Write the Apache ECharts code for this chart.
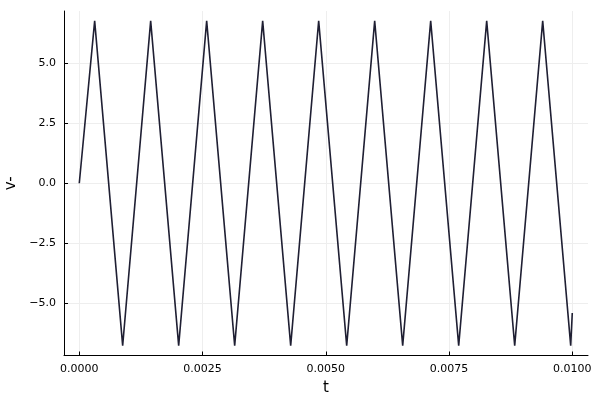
<!DOCTYPE html>
<html>
<head>
<meta charset="utf-8">
<script src="https://cdn.jsdelivr.net/npm/echarts@6/dist/echarts.min.js"></script>
<style>html,body{margin:0;padding:0;background:#fff}#c{width:600px;height:400px}</style>
</head>
<body>
<div id="c"></div>
<script>
const tValues = [0, 0.000312, 0.000880, 0.001448, 0.002016, 0.002584, 0.003152, 0.003720, 0.004288, 0.004856, 0.005424, 0.005992, 0.006560, 0.007128, 0.007696, 0.008264, 0.008832, 0.009400, 0.009968, 0.010000];
const vValues = [0, 6.75, -6.75, 6.75, -6.75, 6.75, -6.75, 6.75, -6.75, 6.75, -6.75, 6.75, -6.75, 6.75, -6.75, 6.75, -6.75, 6.75, -6.75, -5.39];
const xTicks = [0, 0.0025, 0.005, 0.0075, 0.01];
const yTicks = [-5, -2.5, 0, 2.5, 5];

const font = 'DejaVu Sans';
const chart = echarts.init(document.getElementById('c'), null, {renderer: 'canvas'});
chart.setOption({
  animation: false,
  backgroundColor: '#ffffff',
  grid: {left: 64, top: 11, width: 524, height: 344.5, containLabel: false, outerBoundsMode: 'none'},
  xAxis: {
    type: 'value', min: -0.00031, max: 0.010319,
    name: 't', nameLocation: 'middle', nameGap: 25,
    nameTextStyle: {fontFamily: font, fontSize: 15, color: '#000'},
    axisLine: {show: true, onZero: false, lineStyle: {color: '#000', width: 1}},
    axisTick: {show: true, inside: true, length: 4, customValues: xTicks, lineStyle: {color: '#000'}},
    axisLabel: {customValues: xTicks, fontFamily: font, fontSize: 11, color: '#000', margin: 8,
      formatter: v => v.toFixed(4)},
    splitLine: {show: true, lineStyle: {color: '#eeeeee', width: 1}}
  },
  yAxis: {
    type: 'value', min: -7.16, max: 7.16,
    name: 'v-', nameLocation: 'middle', nameGap: 44, nameRotate: 90,
    nameTextStyle: {fontFamily: font, fontSize: 15, color: '#000'},
    axisLine: {show: true, onZero: false, lineStyle: {color: '#000', width: 1}},
    axisTick: {show: true, inside: true, length: 4, customValues: yTicks, lineStyle: {color: '#000'}},
    axisLabel: {customValues: yTicks, fontFamily: font, fontSize: 11, color: '#000', margin: 8,
      formatter: v => (v < 0 ? '\u2212' : '') + Math.abs(v).toFixed(1)},
    splitLine: {show: true, lineStyle: {color: '#eeeeee', width: 1}}
  },
  series: [{
    type: 'line',
    data: tValues.map((t, i) => [t, vValues[i]]),
    showSymbol: false,
    lineStyle: {color: '#1f1f33', width: 1.6},
    clip: true
  }]
});
</script>
</body>
</html>
